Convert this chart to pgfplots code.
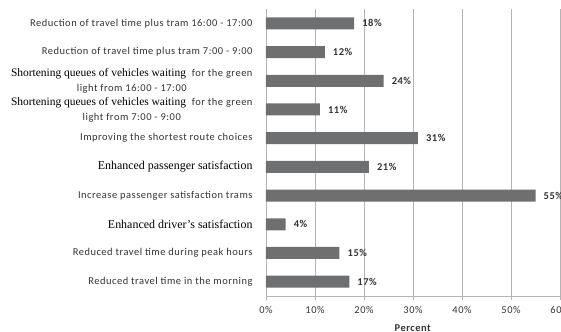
\documentclass[border=0pt]{standalone}
\usepackage{pgfplots}
\pgfplotsset{compat=1.18}
\usepackage{fontspec}
\setmainfont[LetterSpace=5]{Carlito}
\newfontfamily\serif{Liberation Serif}
\definecolor{barc}{HTML}{6D6F71}
\definecolor{gridc}{HTML}{B4B4B4}
\definecolor{txt}{HTML}{333333}
\newcommand{\sr}[1]{{\serif\fontsize{11.5}{15}\selectfont\color{black}#1}}
\newcommand{\srb}[1]{{\serif\fontsize{12}{15}\selectfont\color{black}#1}}
\begin{document}
\begin{tikzpicture}[x=1bp,y=1bp]
\useasboundingbox (-266,-35) rectangle (295,296);
\begin{axis}[
  at={(0,0)}, anchor=south west,
  scale only axis, width=294bp, height=287bp,
  xmin=0, xmax=60, ymin=-0.5, ymax=9.5,
  xbar, bar width=12bp, bar shift=0pt,
  axis lines*=left,
  axis line style={gridc, line width=0.8bp},
  xmajorgrids, grid style={gridc, line width=0.8bp},
  xtick={0,10,...,60},
  xticklabels={0\%,10\%,20\%,30\%,40\%,50\%,60\%},
  xtick align=outside, major tick length=4bp,
  xtick style={gridc, line width=0.8bp},
  ytick={0,...,9},
  ytick style={draw=none},
  yticklabels={
    {Reduced travel time in the morning},
    {Reduced travel time during peak hours},
    {\srb{Enhanced driver’s satisfaction}},
    {Increase passenger satisfaction trams},
    {\srb{Enhanced passenger satisfaction}},
    {Improving the shortest route choices},
    {\sr{Shortening queues of vehicles waiting}\ \ for the green\\light from 7:00 - 9:00},
    {\sr{Shortening queues of vehicles waiting}\ \ for the green\\light from 16:00 - 17:00},
    {Reduction of travel time plus tram 7:00 - 9:00},
    {Reduction of travel time plus tram 16:00 - 17:00}},
  yticklabel style={align=center, font=\fontsize{10.5}{15}\selectfont, text=txt, xshift=-6bp},
  xticklabel style={font=\fontsize{10.5}{12}\selectfont, text=txt, yshift=-3bp},
  xlabel={\textbf{Percent}},
  xlabel style={font=\fontsize{10.5}{12}\selectfont, text=txt, yshift=-4bp},
  /pgf/number format/assume math mode=true,
  nodes near coords={\pgfmathprintnumber{\pgfplotspointmeta}\%},
  point meta=x,
  nodes near coords style={font=\bfseries\fontsize{10.5}{12}\selectfont, text=txt, anchor=west, inner sep=0pt, xshift=8bp},
]
\addplot[fill=barc, draw=none] coordinates {
  (17,0) (15,1) (4,2) (55,3) (21,4) (31,5) (11,6) (24,7) (12,8) (18,9)
};
\end{axis}
\end{tikzpicture}
\end{document}
